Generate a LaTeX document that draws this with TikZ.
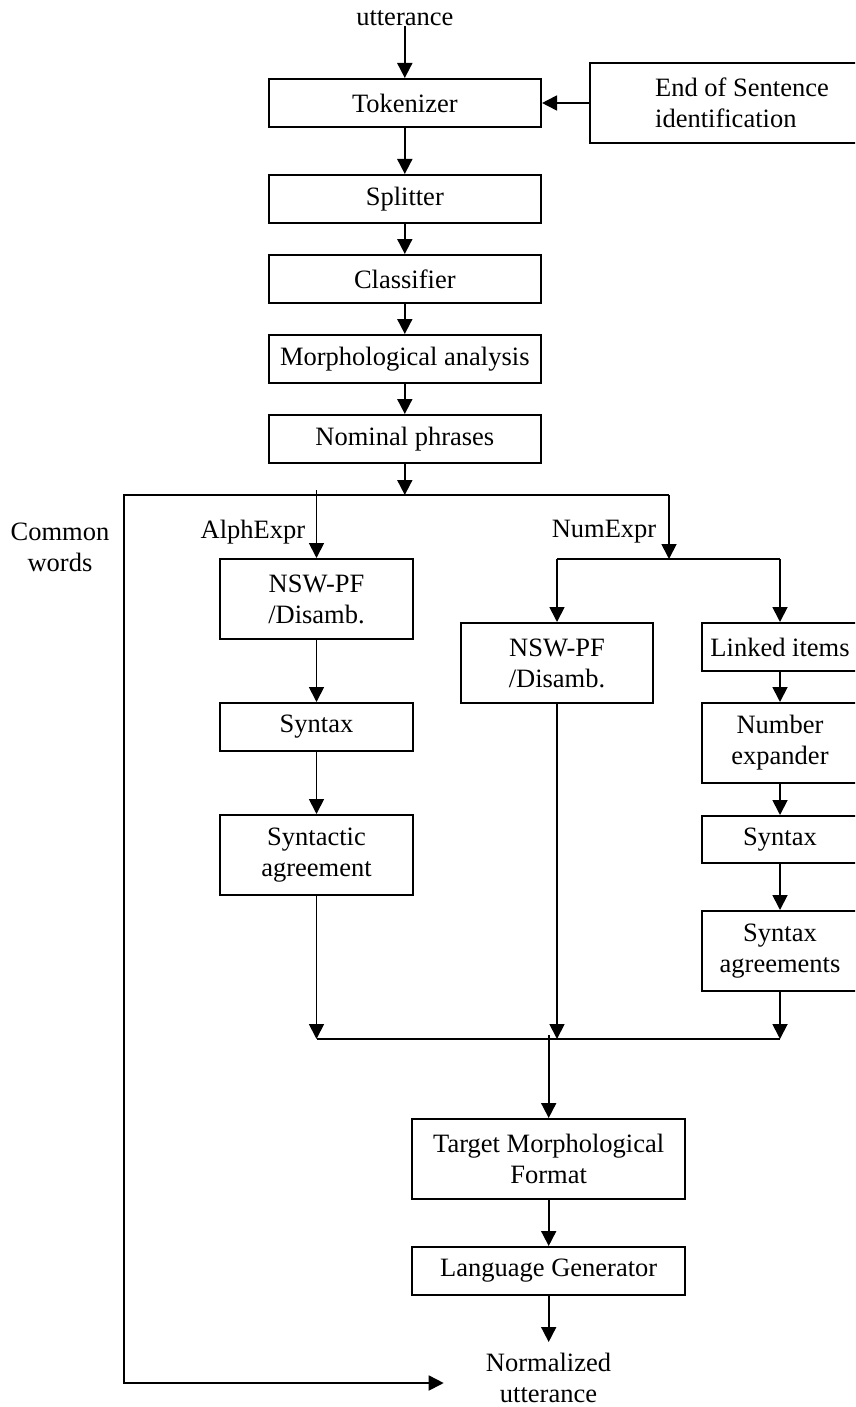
\documentclass[tikz,border=0pt]{standalone}
\usepackage{fontspec}
\setmainfont{Liberation Serif}
\usetikzlibrary{arrows.meta}
\begin{document}
\begin{tikzpicture}[x=1pt,y=-1pt,
  font=\fontsize{26.5}{31}\selectfont,
  box/.style={draw, line width=2pt, align=center, inner sep=3pt},
  wbox/.style={box, minimum width=272.5pt},
  nbox/.style={box, minimum width=193pt},
  rbox/.style={box, minimum width=157pt},
  lbl/.style={inner sep=0pt, align=center},
  conn/.style={line width=1.8pt},
  arr/.style={conn, -{Triangle[length=15pt,width=15pt]}}
]
\useasboundingbox (0,0) rectangle (855,1407);
\clip (0,0) rectangle (855,1407);

% nodes
\node[lbl] (utt) at (404.8,18) {utterance};
\node[wbox, minimum height=48pt] (tok) at (404.8,103) {Tokenizer};
\node[box, anchor=west, minimum height=80.6pt, minimum width=304pt, align=left] (eos) at (589,103) {End of Sentence\\identification};
\node[wbox, minimum height=48pt] (split) at (404.8,199) {Splitter};
\node[wbox, minimum height=48pt] (cls) at (404.8,279) {Classifier};
\node[wbox, minimum height=48pt] (morph) at (404.8,359) {Morphological analysis};
\node[wbox, minimum height=48pt] (nom) at (404.8,439) {Nominal phrases};
\node[lbl] (cw) at (60,547) {Common\\words};
\node[lbl] (alph) at (253,532) {AlphExpr};
\node[lbl] (num) at (604,532) {NumExpr};
\node[nbox, minimum height=80pt] (nsw1) at (316.5,599) {NSW-PF\\/Disamb.};
\node[nbox, minimum height=48pt] (syn1) at (316.5,727) {Syntax};
\node[nbox, minimum height=80pt] (sag1) at (316.5,855) {Syntactic\\agreement};
\node[box, minimum width=192pt, minimum height=80pt] (nsw2) at (557,663) {NSW-PF\\/Disamb.};
\node[rbox, minimum height=48pt] (link) at (780,647) {Linked items};
\node[rbox, minimum height=80pt] (numx) at (780,743) {Number\\expander};
\node[rbox, minimum height=47pt] (syn2) at (780,839.5) {Syntax};
\node[rbox, minimum height=80pt] (sag2) at (780,951) {Syntax\\agreements};
\node[wbox, minimum height=80pt] (tmf) at (548.7,1159) {Target Morphological\\Format};
\node[wbox, minimum height=48pt] (lg) at (548.7,1271) {Language Generator};
\node[lbl] (out) at (548.5,1378) {Normalized\\utterance};

% junction coordinates
\coordinate (split1) at (404.8,495);
\coordinate (hl) at (124,495);
\coordinate (hr) at (669,495);
\coordinate (atop) at (316.5,490);
\coordinate (nj) at (669,559);
\coordinate (nl) at (557,559);
\coordinate (nr) at (780,559);
\coordinate (bl) at (316.5,1039);
\coordinate (bm) at (557,1039);
\coordinate (br) at (780,1039);
\coordinate (otop) at (548.7,1035);
\coordinate (outtip) at (548.7,1342);
\coordinate (cwb) at (124,1383);
\coordinate (cwtip) at (443.7,1383);

% connectors
\draw[arr] (utt) -- (tok);
\draw[arr] (eos.west) -- (tok.east);
\draw[arr] (tok) -- (split);
\draw[arr] (split) -- (cls);
\draw[arr] (cls) -- (morph);
\draw[arr] (morph) -- (nom);
\draw[arr] (nom) -- (split1);
\draw[arr] (hr) -- (hl) -- (cwb) -- (cwtip);
\draw[arr] (atop) -- (nsw1.north);
\draw[arr] (hr) -- (nj);
\draw[conn] (nl) -- (nr);
\draw[arr] (nl) -- (nsw2.north);
\draw[arr] (nr) -- (link.north);
\draw[arr] (nsw1) -- (syn1);
\draw[arr] (syn1) -- (sag1);
\draw[arr] (sag1) -- (bl);
\draw[arr] (nsw2) -- (bm);
\draw[arr] (link) -- (numx);
\draw[arr] (numx) -- (syn2);
\draw[arr] (syn2) -- (sag2);
\draw[arr] (sag2) -- (br);
\draw[conn] (bl) -- (br);
\draw[arr] (otop) -- (tmf.north);
\draw[arr] (tmf) -- (lg);
\draw[arr] (lg) -- (outtip);
\end{tikzpicture}
\end{document}
